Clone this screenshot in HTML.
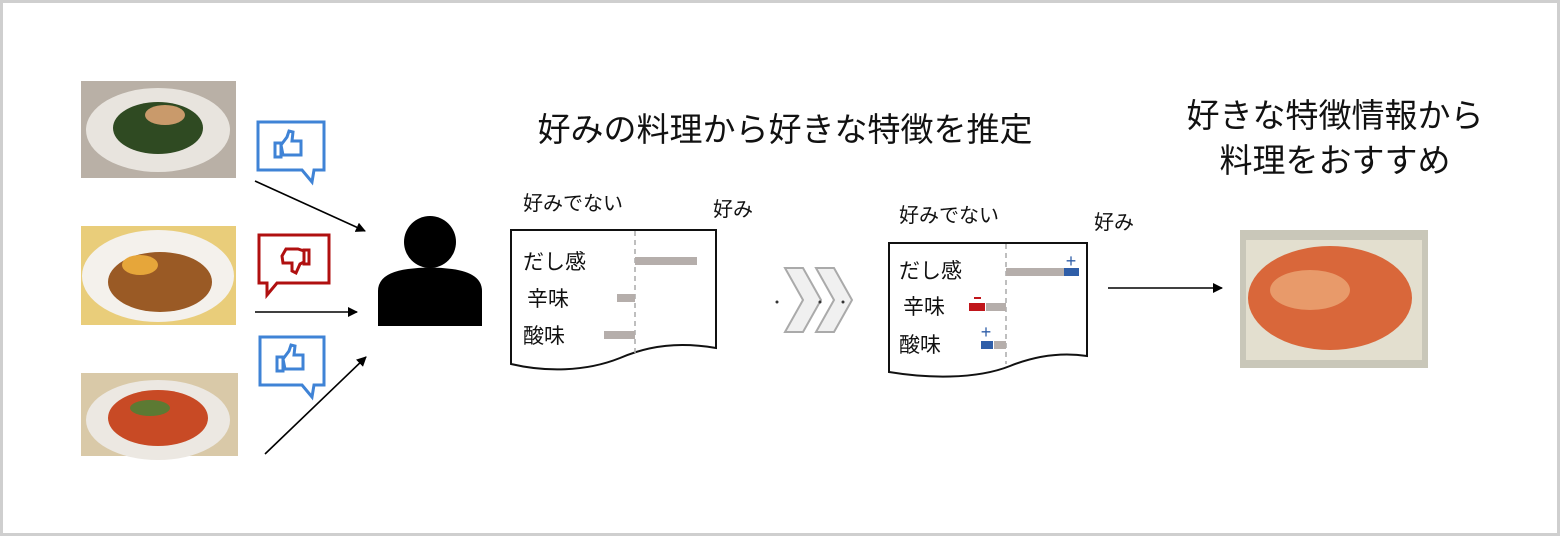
<!DOCTYPE html>
<html><head><meta charset="utf-8"><style>
html,body{margin:0;padding:0;background:#fff}
svg{display:block}
text{font-family:"Liberation Sans","Noto Sans CJK JP",sans-serif;fill:#111}
</style></head><body>
<svg width="1560" height="536" viewBox="0 0 1560 536" xmlns="http://www.w3.org/2000/svg">
<defs>
<marker id="ah" markerWidth="10" markerHeight="10" refX="9" refY="5" orient="auto" markerUnits="userSpaceOnUse"><path d="M0,0 L10,5 L0,10 z" fill="#000"/></marker>
</defs>
<rect x="1.5" y="1.5" width="1557" height="533" fill="#fff" stroke="#cfcfcf" stroke-width="3"/>

<!-- photos -->
<rect x="81" y="81" width="155" height="97" fill="#b9b0a6"/>
<ellipse cx="158" cy="130" rx="72" ry="42" fill="#e8e4de"/>
<ellipse cx="158" cy="128" rx="45" ry="26" fill="#2f4a22"/>
<ellipse cx="165" cy="115" rx="20" ry="10" fill="#c99a6b"/>

<rect x="81" y="226" width="155" height="99" fill="#e9cd7a"/>
<ellipse cx="158" cy="276" rx="76" ry="46" fill="#f4f1ec"/>
<ellipse cx="160" cy="282" rx="52" ry="30" fill="#9a5a25"/>
<ellipse cx="140" cy="265" rx="18" ry="10" fill="#e6a63a"/>

<rect x="81" y="373" width="157" height="83" fill="#d9c9a8"/>
<ellipse cx="158" cy="420" rx="72" ry="40" fill="#ece8e2"/>
<ellipse cx="158" cy="418" rx="50" ry="28" fill="#c84a25"/>
<ellipse cx="150" cy="408" rx="20" ry="8" fill="#5c7a33"/>

<rect x="1240" y="230" width="188" height="138" fill="#c9c7b9"/>
<rect x="1246" y="240" width="176" height="120" fill="#e3dfcf"/>
<ellipse cx="1330" cy="298" rx="82" ry="52" fill="#d9673a"/>
<ellipse cx="1310" cy="290" rx="40" ry="20" fill="#e89a6a"/>

<!-- bubbles -->
<g fill="none" stroke="#3f83d6" stroke-width="3">
<path d="M258,122 h66 v48 h-10 l-2,12 l-10,-12 h-44 z"/>
<path d="M260,337 h64 v48 h-10 l-2,12 l-10,-12 h-42 z"/>
<path d="M275,143 h6 v14 h-6 z M281,145 l6,-8 l2,-6 l4,1 l-1,9 h9 v14 h-18 z"/>
<path d="M277,357 h6 v14 h-6 z M283,359 l6,-8 l2,-6 l4,1 l-1,9 h9 v14 h-18 z"/>
</g>
<g fill="none" stroke="#b01010" stroke-width="3">
<path d="M259,235 h70 v48 h-52 l-10,12 l0,-12 h-8 z"/>
<path d="M309,250 h-5 v14 h5 z M304,251 l-6,-2 h-12 l-4,7 l1,7 h9 l0,8 l4,2 l4,-9 l4,-2 z"/>
</g>

<!-- arrows -->
<g stroke="#000" stroke-width="1.6" fill="none" marker-end="url(#ah)">
<line x1="255" y1="181" x2="365" y2="231"/>
<line x1="255" y1="312" x2="357" y2="312"/>
<line x1="265" y1="454" x2="366" y2="357"/>
<line x1="1108" y1="288" x2="1222" y2="288"/>
</g>

<!-- person -->
<circle cx="430" cy="242" r="26" fill="#000"/>
<path d="M378,326 v-35 q0,-18 30,-22 q22,-3 44,0 q30,4 30,22 v35 z" fill="#000"/>

<!-- titles -->
<text x="785" y="141" font-size="33" text-anchor="middle">好みの料理から好きな特徴を推定</text>
<text x="1335" y="127" font-size="33" text-anchor="middle">好きな特徴情報から</text>
<text x="1335" y="172" font-size="33" text-anchor="middle">料理をおすすめ</text>

<!-- doc 1 -->
<text x="523" y="210" font-size="20">好みでない</text>
<text x="713" y="216" font-size="20">好み</text>
<path d="M511,230 H716 V348 C680,342 650,345 620,358 C585,372 545,372 511,364 Z" fill="#fff" stroke="#111" stroke-width="2"/>
<line x1="635" y1="231" x2="635" y2="356" stroke="#aaa" stroke-width="1.5" stroke-dasharray="5,4"/>
<rect x="635" y="257" width="62" height="8" fill="#b5aeab"/>
<rect x="617" y="294" width="18" height="8" fill="#b5aeab"/>
<rect x="604" y="331" width="31" height="8" fill="#b5aeab"/>
<text x="523" y="269" font-size="21">だし感</text>
<text x="527" y="306" font-size="21">辛味</text>
<text x="523" y="343" font-size="21">酸味</text>

<!-- chevrons -->
<g fill="#f0f0f0" stroke="#aaa" stroke-width="2">
<path d="M785,268 h18 l18,32 l-18,32 h-18 l18,-32 z"/>
<path d="M816,268 h18 l18,32 l-18,32 h-18 l18,-32 z"/>
</g>
<circle cx="777" cy="302" r="1.5" fill="#333"/>
<circle cx="820" cy="302" r="1.5" fill="#333"/>
<circle cx="843" cy="302" r="1.5" fill="#333"/>

<!-- doc 2 -->
<text x="899" y="222" font-size="20">好みでない</text>
<text x="1094" y="229" font-size="20">好み</text>
<path d="M889,243 H1087 V356 C1060,352 1035,356 1010,366 C975,380 925,378 889,372 Z" fill="#fff" stroke="#111" stroke-width="2"/>
<line x1="1006" y1="244" x2="1006" y2="364" stroke="#aaa" stroke-width="1.5" stroke-dasharray="5,4"/>
<rect x="1006" y="268" width="58" height="8" fill="#b5aeab"/>
<rect x="1064" y="268" width="15" height="8" fill="#2f5ea8"/>
<text x="1071" y="267" font-size="18" text-anchor="middle" style="fill:#2f5ea8">+</text>
<rect x="986" y="303" width="20" height="8" fill="#b5aeab"/>
<rect x="969" y="303" width="16" height="8" fill="#c0151a"/>
<rect x="974" y="297" width="7" height="2" fill="#c0151a"/>
<rect x="994" y="341" width="12" height="8" fill="#b5aeab"/>
<rect x="981" y="341" width="12" height="8" fill="#2f5ea8"/>
<text x="986" y="338" font-size="18" text-anchor="middle" style="fill:#2f5ea8">+</text>
<text x="899" y="278" font-size="21">だし感</text>
<text x="903" y="314" font-size="21">辛味</text>
<text x="899" y="352" font-size="21">酸味</text>
</svg>
</body></html>
